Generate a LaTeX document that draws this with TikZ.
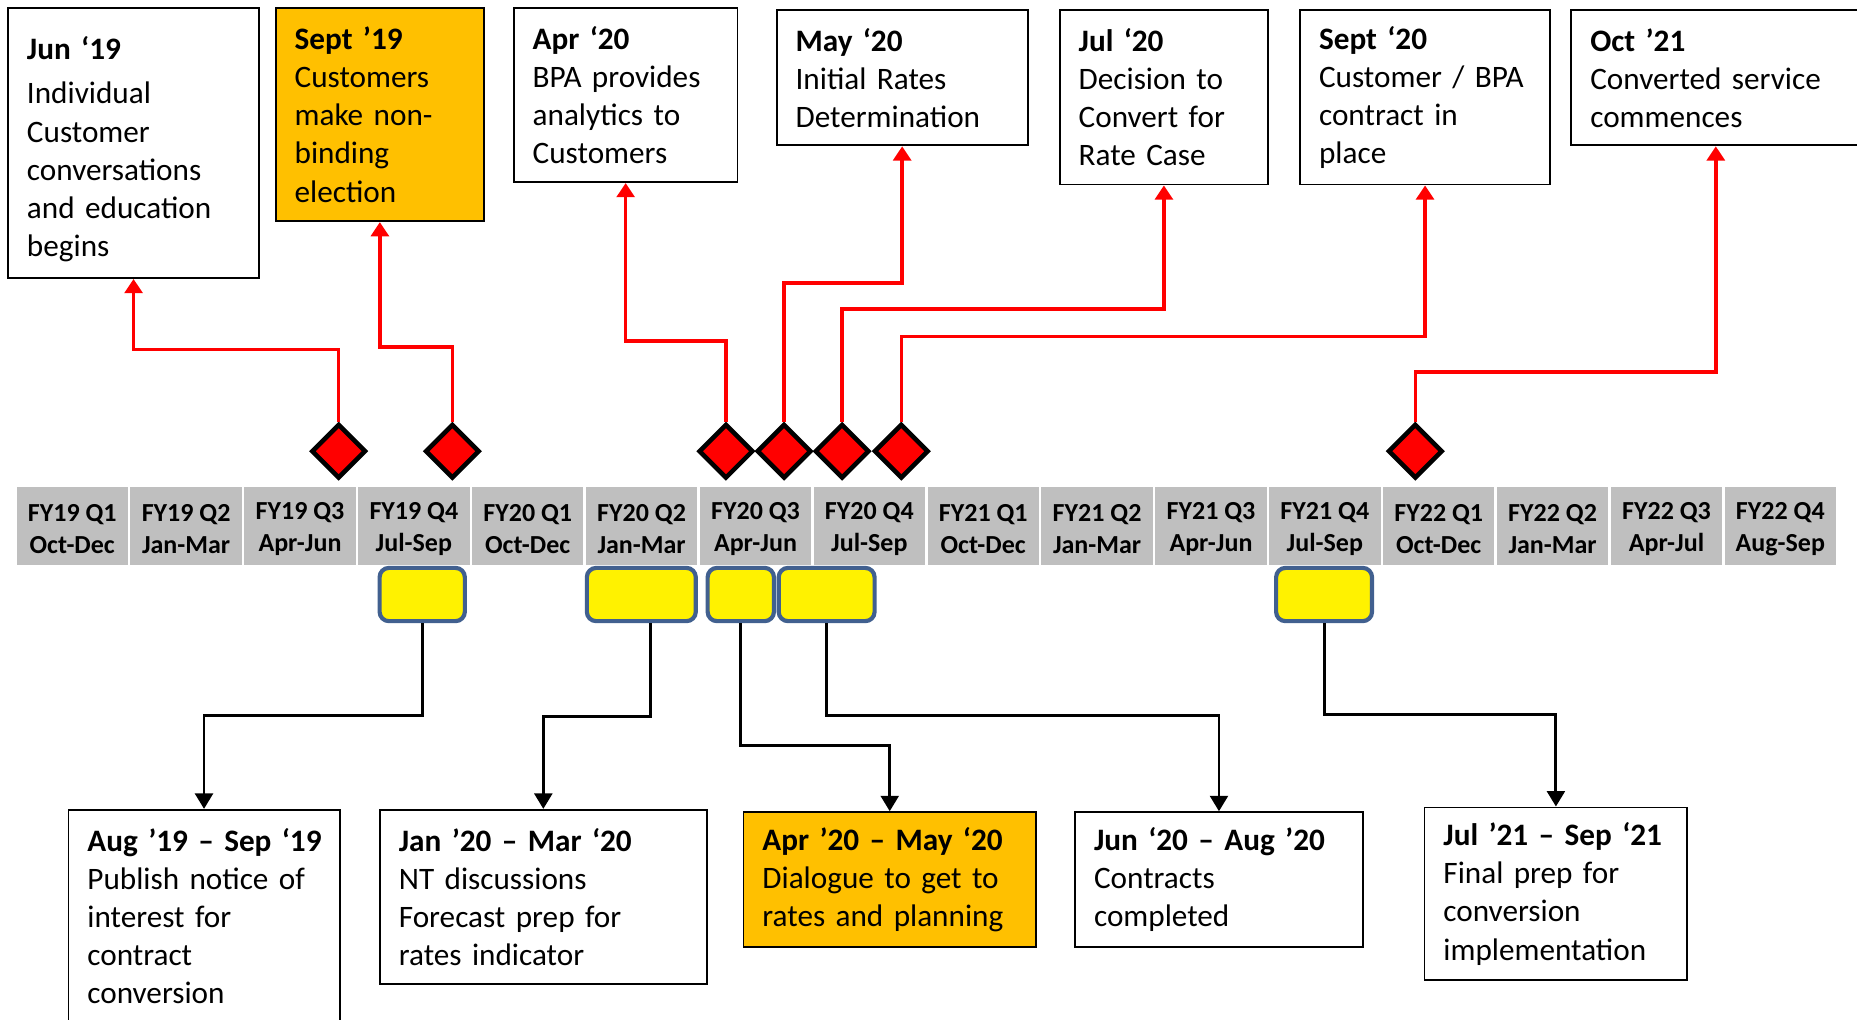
\documentclass[tikz,border=0pt]{standalone}
\usepackage{fontspec}
\setmainfont{Carlito}
\usepackage{xcolor}
\usetikzlibrary{arrows.meta}
\usetikzlibrary{shapes.geometric}
\usetikzlibrary{positioning}
\definecolor{evorange}{HTML}{FFC000}
\definecolor{qgray}{HTML}{BFBFBF}
\definecolor{ybord}{HTML}{41608F}
\newcommand{\evtitle}[1]{\mbox{\bfseries #1}}

\begin{document}
\begin{tikzpicture}[x=0.02cm, y=-0.02cm,
	evbox/.style={draw=black, line width=0.9pt, anchor=north west, align=left, inner xsep=0.32cm, inner ysep=0pt, font=\fontsize{15}{18.3}\selectfont},
	qcell/.style={fill=qgray, minimum width=1.88cm, minimum height=1.32cm, inner sep=0pt},
	qtext/.style={align=center, inner sep=0pt, font=\fontsize{12.5}{15.3}\selectfont\bfseries},
	mstone/.style={diamond, draw=black, fill=red, line width=2.2pt, minimum width=0.92cm, minimum height=0.92cm, inner sep=0pt},
	period/.style={draw=ybord, fill=yellow, line width=2pt, rounded corners=4.5pt, minimum height=0.9cm, inner sep=0pt},
	redarr/.style={red, line width=1.7pt, -{Triangle[width=0.3cm, length=0.24cm]}},
	blkarr/.style={black, line width=1.4pt, -{Triangle[width=0.3cm, length=0.26cm]}}]
					\useasboundingbox (0,0) rectangle (1568,861);
					% draw top milestone boxes
					\node[evbox, text width=3.6cm, minimum height=4.56cm] (jun19) at (6,6) {\rule{0pt}{0.6cm}\evtitle{Jun ‘19}\\[0.1cm]Individual\\Customer\\conversations\\and education\\begins};
					\node[evbox, fill=evorange, text width=2.88cm, minimum height=3.6cm] (sep19) at (232,6) {\evtitle{Sept ’19}\\Customers\\make non-\\binding\\election};
					\node[evbox, text width=3.14cm, minimum height=2.94cm] (apr20) at (433,6) {\evtitle{Apr ‘20}\\BPA provides\\analytics to\\Customers};
					\node[evbox, text width=3.6cm, minimum height=2.28cm] (may20) at (655,8) {\evtitle{May ‘20}\\Initial Rates\\Determination};
					\node[evbox, text width=2.88cm, minimum height=2.94cm] (jul20) at (894,8) {\evtitle{Jul ‘20}\\Decision to\\Convert for\\Rate Case};
					\node[evbox, text width=3.58cm, minimum height=2.94cm] (sep20) at (1097,8) {\evtitle{Sept ‘20}\\Customer / BPA\\contract in\\place};
					\node[evbox, text width=4.24cm, minimum height=2.28cm] (oct21) at (1326,8) {\evtitle{Oct ’21}\\Converted service\\commences};
					% draw quarters
					\foreach \lab [count=\i] in {{FY19 Q1\\Oct-Dec},{FY19 Q2\\Jan-Mar},{FY19 Q3\\Apr-Jun},{FY19 Q4\\Jul-Sep},
						{FY20 Q1\\Oct-Dec},{FY20 Q2\\Jan-Mar},{FY20 Q3\\Apr-Jun},{FY20 Q4\\Jul-Sep},
						{FY21 Q1\\Oct-Dec},{FY21 Q2\\Jan-Mar},{FY21 Q3\\Apr-Jun},{FY21 Q4\\Jul-Sep},
						{FY22 Q1\\Oct-Dec},{FY22 Q2\\Jan-Mar},{FY22 Q3\\Apr-Jul},{FY22 Q4\\Aug-Sep}}{
						\node[qcell] (q\i) at ({61+96.15*(\i-1)},444) {};
						\node[qtext] (t\i) at ([yshift=-0.06cm]q\i.center) {\lab};
					}
					% draw milestones
					\node[mstone] (d1) at (286,381) {};
					\node[mstone] (d2) at (382,381) {};
					\node[mstone] (d3) at (613,381) {};
					\node[mstone] (d4) at (662,381) {};
					\node[mstone] (d5) at (711,381) {};
					\node[mstone] (d6) at (761,381) {};
					\node[mstone] (d7) at (1195,381) {};
					% add red arrows
					\draw[redarr] (d1.north) -- ++(0,-61) -| (jun19.south);
					\draw[redarr] (d2.north) -- ++(0,-63) -| (sep19.south);
					\draw[redarr] (d3.north) -- ++(0,-68) -| (apr20.south);
					\draw[redarr] (d4.north) -- ++(0,-117) -| (may20.south);
					\draw[redarr] (d5.north) -- ++(0,-95) -| (jul20.south);
					\draw[redarr] (d6.north) -- ++(0,-72) -| (sep20.south);
					\draw[redarr] (d7.north) -- ++(0,-42) -| (oct21.south);
					% draw periods
					\node[period, minimum width=1.44cm] (p1) at (356.5,502) {};
					\node[period, minimum width=1.84cm] (p2) at (541.5,502) {};
					\node[period, minimum width=1.12cm] (p3) at (625.5,502) {};
					\node[period, minimum width=1.62cm] (p4) at (698,502) {};
					\node[period, minimum width=1.62cm] (p5) at (1118,502) {};
					% draw bottom boxes
					\node[evbox, text width=3.94cm, minimum height=3.58cm] (aug19) at (57,683) {\evtitle{Aug ’19 – Sep ‘19}\\Publish notice of\\interest for\\contract\\conversion};
					\node[evbox, text width=4.88cm, minimum height=2.94cm] (jan20) at (320,683) {\evtitle{Jan ’20 – Mar ‘20}\\NT discussions\\Forecast prep for\\rates indicator};
					\node[evbox, fill=evorange, text width=4.3cm, minimum height=2.28cm] (aprmay20) at (627,685) {\evtitle{Apr ’20 – May ‘20}\\Dialogue to get to\\rates and planning};
					\node[evbox, text width=4.22cm, minimum height=2.28cm] (junaug20) at (907,685) {\evtitle{Jun ‘20 – Aug ’20}\\Contracts\\completed};
					\node[evbox, text width=3.8cm, minimum height=2.92cm] (jul21) at (1202,681) {\evtitle{Jul ’21 – Sep ‘21}\\Final prep for\\conversion\\implementation};
					% add black arrows
					\draw[blkarr] (p1.south) -- ++(0,78) -| (aug19.north);
					\draw[blkarr] ([xshift=0.16cm]p2.south) -- ++(0,79) -| (jan20.north);
					\draw[blkarr] (p3.south) -- ++(0,103) -| (aprmay20.north);
					\draw[blkarr] (p4.south) -- ++(0,78) -| (junaug20.north);
					\draw[blkarr] (p5.south) -- ++(0,77) -| (jul21.north);
				\end{tikzpicture}
\end{document}
